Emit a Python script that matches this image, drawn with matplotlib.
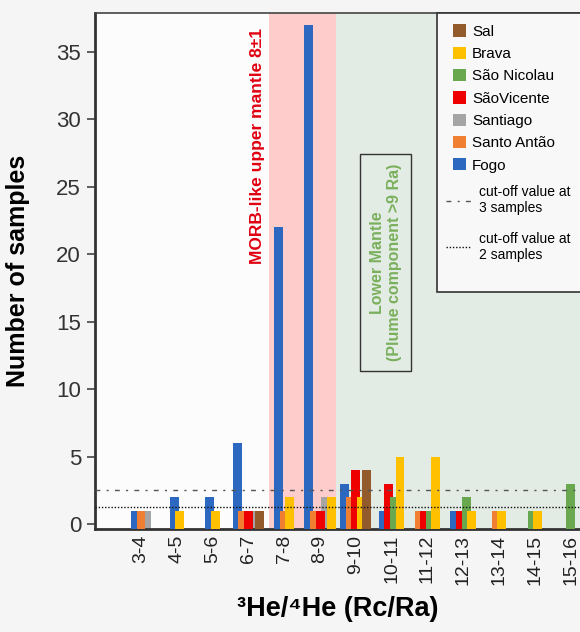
import matplotlib
matplotlib.use("Agg")
from matplotlib import pyplot as plt
from matplotlib.patches import Patch, Rectangle
from matplotlib.lines import Line2D
import numpy as np

plt.rcParams['font.family'] = ['Liberation Sans', 'DejaVu Sans']

# 数据
categories  = ['3-4', '4-5', '5-6', '6-7', '7-8', '8-9', '9-10',
               '10-11', '11-12', '12-13', '13-14', '14-15', '15-16']
fogo        = [1, 2, 2, 6, 22, 37, 3, 1, 0, 1, 0, 0, 0]
santo_antao = [1, 0, 0, 1, 1, 1, 2, 0, 1, 0, 1, 0, 0]
sao_vicente = [0, 0, 0, 1, 0, 1, 4, 3, 1, 1, 0, 0, 0]
santiago    = [1, 0, 0, 1, 0, 2, 0, 0, 0, 0, 0, 0, 0]
sao_nicolau = [0, 0, 0, 0, 0, 0, 0, 2, 1, 2, 0, 1, 3]
brava       = [0, 1, 1, 0, 2, 2, 2, 5, 5, 1, 1, 1, 0]
sal         = [0, 0, 0, 1, 0, 0, 4, 0, 0, 0, 0, 0, 0]
cutoff_3 = 2.55
cutoff_2 = 1.3

# 系列 (排列顺序即组内从左到右的顺序)
series = [
    ("Fogo",        fogo,        "#2c68c0", 3),
    ("Santo Antão", santo_antao, "#f07f32", 3),
    ("SãoVicente",  sao_vicente, "#ee0000", 3),
    ("Santiago",    santiago,    "#a5a5a5", 2),
    ("São Nicolau", sao_nicolau, "#6aa84f", 3),
    ("Brava",       brava,       "#ffc000", 3),
    ("Sal",         sal,         "#935b2b", 3),
]
legend_order = ["Sal", "Brava", "São Nicolau", "SãoVicente", "Santiago", "Santo Antão", "Fogo"]

bar_w = 0.25        # 柱宽
step = 0.155        # 组内非零柱之间的间距
y0 = -0.35          # y轴下限

fig = plt.figure(figsize=(5.8, 6.32), dpi=100, facecolor="#f5f5f5")
ax = fig.add_axes([95/580, 103/632, 485/580, 516/632])
ax.set_facecolor("#fcfcfc")

n_cat = len(categories)
xs = np.arange(n_cat)

# 每组只排列非零的柱子, 居中对齐
offsets = np.zeros((len(series), n_cat))
for i in range(n_cat):
    nz = [k for k, s in enumerate(series) if s[1][i] > 0]
    for j, k in enumerate(nz):
        offsets[k, i] = (j - (len(nz) - 1) / 2) * step

for k, (name, vals, color, z) in enumerate(series):
    v = np.array(vals, dtype=float)
    m = v > 0
    ax.bar(xs[m] + offsets[k, m], v[m] - y0, bottom=y0, width=bar_w,
           color=color, zorder=z, linewidth=0)

# 背景区域
ax.axvspan(3.58, 5.45, color="#ffcccc", zorder=0, lw=0)
ax.axvspan(5.45, 13, color="#e3ebe5", zorder=0, lw=0)

# 截断线
dashdot = (0, (3.5, 4.5, 1.5, 4.5))
dotted = (0, (1, 1.3))
ax.axhline(cutoff_3, color="#555555", ls=dashdot, lw=1, zorder=4)
ax.axhline(cutoff_2, color="#111111", ls=dotted, lw=1, zorder=4)

ax.set_xlim(-1.285, 12.26)
ax.set_ylim(y0, 37.89)
ax.set_yticks(range(0, 36, 5))
ax.set_xticks(xs)
ax.set_xticklabels(categories, rotation=90)
ax.tick_params(axis="x", length=0, labelsize=14, pad=4, labelcolor="#222222")
ax.tick_params(axis="y", length=6, width=1.2, color="#444444", labelsize=16,
               labelcolor="#333333", pad=4)

for s in ["left", "bottom"]:
    ax.spines[s].set_color("#333333")
    ax.spines[s].set_linewidth(2)
ax.spines["top"].set_color("#444444")
ax.spines["top"].set_linewidth(1.2)
ax.spines["right"].set_visible(False)

ax.set_ylabel("Number of samples", fontsize=18, fontweight="bold")
ax.yaxis.set_label_coords(-0.134, 0.5)
ax.set_xlabel("³He/⁴He (Rc/Ra)", fontsize=19.5, fontweight="bold")
ax.xaxis.set_label_coords(0.5, -0.13)

# 文本标注
ax.text(3.24, 28.0, "MORB-like upper mantle 8±1", rotation=90, color="#e00010",
        fontsize=12.5, fontweight="bold", ha="center", va="center", zorder=6)
ax.text(6.84, 19.4, "Lower Mantle\n(Plume component >9 Ra)", rotation=90,
        color="#7ab05c", fontsize=11.5, fontweight="bold", ha="center", va="center",
        linespacing=1.15, zorder=6,
        bbox=dict(boxstyle="square,pad=0.6", facecolor="none", edgecolor="#333333", lw=1))

# 图例
frame = Rectangle((0.705, 0.459), 0.4, 0.541, transform=ax.transAxes, facecolor="#f8f8f8",
                  edgecolor="#333333", lw=1.2, clip_on=False, zorder=5)
ax.add_patch(frame)

colors = {s[0]: s[2] for s in series}
patch_handles = [Patch(facecolor=colors[n], edgecolor="none", label=n) for n in legend_order]
leg1 = ax.legend(handles=patch_handles, loc="upper left", bbox_to_anchor=(0.738, 0.978),
                 frameon=False, fontsize=11, handlelength=0.85, handleheight=0.85,
                 handletextpad=0.4, labelspacing=0.52, borderpad=0, borderaxespad=0)
leg1.set_zorder(6)
ax.add_artist(leg1)

line_handles = [Line2D([], [], color="#555555", ls=dashdot, lw=1, label="cut-off value at\n3 samples"),
                Line2D([], [], color="#111111", ls=dotted, lw=1, label="cut-off value at\n2 samples")]
leg2 = ax.legend(handles=line_handles, loc="upper left", bbox_to_anchor=(0.724, 0.667),
                 frameon=False, fontsize=10, handlelength=1.8, handletextpad=0.55,
                 labelspacing=1.2, borderpad=0, borderaxespad=0)
leg2.set_zorder(6)

plt.savefig("out.png", dpi=100, facecolor=fig.get_facecolor())
